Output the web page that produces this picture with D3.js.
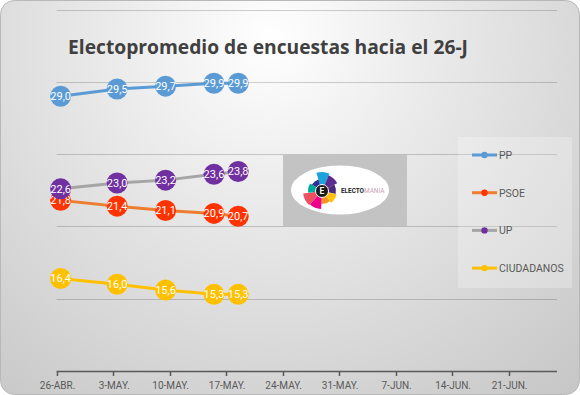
<!DOCTYPE html>
<html>
<head>
<meta charset="utf-8">
<script src="https://cdn.jsdelivr.net/npm/d3@7"></script>
<style>
  html, body { margin: 0; padding: 0; background: #fff; }
  svg { display: block; }
</style>
</head>
<body>
<div id="chart"></div>
<script>
// Fechas de los sondeos (promedio semanal)
const dates = ['2016-04-26', '2016-05-03', '2016-05-09', '2016-05-15', '2016-05-18'];
const parties = ['PP', 'PSOE', 'UP', 'CIUDADANOS'];
const pp = [29.0, 29.5, 29.7, 29.9, 29.9];
const psoe = [21.8, 21.4, 21.1, 20.9, 20.7];
const up = [22.6, 23.0, 23.2, 23.6, 23.8];
const cs = [16.4, 16.0, 15.6, 15.3, 15.3];
const tickDates = ['2016-04-26', '2016-05-03', '2016-05-10', '2016-05-17', '2016-05-24',
    '2016-05-31', '2016-06-07', '2016-06-14', '2016-06-21'];
const months = ['ENE', 'FEB', 'MAR', 'ABR', 'MAY', 'JUN', 'JUL', 'AGO', 'SEP', 'OCT', 'NOV', 'DIC'];
const yTicks = [10, 15, 20, 25, 30, 35];

const width = 580, height = 395;
const parse = d3.timeParse('%Y-%m-%d');

const series = [
    {name: 'PP', values: pp, line: '#5b9bd5', marker: '#5b9bd5'},
    {name: 'PSOE', values: psoe, line: '#ed7d31', marker: '#ff3300'},
    {name: 'UP', values: up, line: '#a5a5a5', marker: '#7030a0'},
    {name: 'CIUDADANOS', values: cs, line: '#ffc000', marker: '#ffc000'},
];

const svg = d3.select('#chart')
    .append('svg')
    .attr('width', width)
    .attr('height', height);

// fondo degradado
const defs = svg.append('defs');
const grad = defs.append('radialGradient')
    .attr('id', 'bg')
    .attr('gradientUnits', 'userSpaceOnUse')
    .attr('cx', 270).attr('cy', 40).attr('r', 520);
grad.append('stop').attr('offset', '0%').attr('stop-color', '#ffffff');
grad.append('stop').attr('offset', '30%').attr('stop-color', '#ebebeb');
grad.append('stop').attr('offset', '100%').attr('stop-color', '#c0c0c0');

svg.append('rect')
    .attr('x', 0.5).attr('y', 0.5)
    .attr('width', width - 1).attr('height', height - 1)
    .attr('rx', 14).attr('ry', 14)
    .attr('fill', 'url(#bg)')
    .attr('stroke', '#b8b8b8');

const x = d3.scaleTime()
    .domain([parse('2016-04-26'), parse('2016-06-27')])
    .range([56.6, 557]);
const y = d3.scaleLinear()
    .domain([10, 35])
    .range([371, 9.5]);
// posición "entre marcas": cada día ocupa una ranura
const half = (x(parse('2016-04-27')) - x(parse('2016-04-26'))) / 2;

// rejilla
svg.append('g')
    .selectAll('line')
    .data(yTicks.slice(1))
    .join('line')
    .attr('x1', x.range()[0])
    .attr('x2', x.range()[1])
    .attr('y1', d => Math.round(y(d)) + 0.5)
    .attr('y2', d => Math.round(y(d)) + 0.5)
    .attr('stroke', '#000')
    .attr('stroke-opacity', 0.18);

// logo electomania
const logo = svg.append('g');
logo.append('rect')
    .attr('x', 283).attr('y', Math.round(y(25)) + 1)
    .attr('width', 124).attr('height', Math.round(y(20)) - Math.round(y(25)) - 1)
    .attr('fill', '#c3c3c3');
logo.append('ellipse')
    .attr('cx', 340).attr('cy', 190)
    .attr('rx', 49).attr('ry', 24.5)
    .attr('fill', '#fff');
const petals = [
    {c: '#1aa3dc', r: 19}, {c: '#5c2d91', r: 17}, {c: '#4a2a7a', r: 14},
    {c: '#ffc20e', r: 15}, {c: '#f7941d', r: 13}, {c: '#ec008c', r: 18},
    {c: '#ef4f5f', r: 19}, {c: '#00a99d', r: 14}, {c: '#2e3192', r: 12},
];
const arc = d3.arc().innerRadius(5);
const step = Math.PI * 2 / petals.length;
logo.append('g')
    .attr('transform', 'translate(322,191)')
    .selectAll('path')
    .data(petals)
    .join('path')
    .attr('d', (d, i) => arc({outerRadius: d.r, startAngle: -0.3 + i * step, endAngle: -0.3 + (i + 1) * step}))
    .attr('fill', d => d.c);
logo.append('circle')
    .attr('cx', 322).attr('cy', 191).attr('r', 6.5)
    .attr('fill', '#1a1a1a').attr('stroke', '#fff').attr('stroke-width', 1);
logo.append('text')
    .attr('x', 322).attr('y', 194)
    .attr('text-anchor', 'middle')
    .attr('font-family', 'Roboto, sans-serif')
    .attr('font-weight', 'bold')
    .attr('font-size', 8.5)
    .attr('fill', '#fff')
    .text('E');
const lt = logo.append('text')
    .attr('x', 341).attr('y', 193)
    .attr('font-family', 'Roboto, sans-serif')
    .attr('font-size', 6.4);
lt.append('tspan').attr('font-weight', 'bold').attr('fill', '#222').text('ELECTO');
lt.append('tspan').attr('fill', '#c9a3b3').text('MANIA');

// eje X
const xAxis = svg.append('g')
    .attr('transform', `translate(0,${Math.round(y(10)) + 0.5})`);
xAxis.append('line')
    .attr('x1', x.range()[0]).attr('x2', x.range()[1])
    .attr('stroke', '#595959').attr('stroke-width', 1.5);
xAxis.selectAll('.tick')
    .data(tickDates.map(parse))
    .join('line')
    .attr('x1', d => Math.round(x(d)) + 0.5)
    .attr('x2', d => Math.round(x(d)) + 0.5)
    .attr('y1', 0).attr('y2', 4.5)
    .attr('stroke', '#595959').attr('stroke-width', 1.5);
xAxis.selectAll('text')
    .data(tickDates.map(parse))
    .join('text')
    .attr('x', d => x(d) + 1)
    .attr('y', 17)
    .attr('text-anchor', 'middle')
    .attr('font-family', 'Roboto, sans-serif')
    .attr('font-size', 10)
    .attr('fill', '#595959')
    .text(d => `${d.getDate()}-${months[d.getMonth()]}.`);

// series
const line = d3.line()
    .x((d, i) => x(parse(dates[i])) + half)
    .y(d => y(d));

const gSeries = svg.append('g');
series.forEach(s => {
    const g = gSeries.append('g');
    g.append('path')
        .attr('d', line(s.values))
        .attr('fill', 'none')
        .attr('stroke', s.line)
        .attr('stroke-width', 3);
});
series.forEach(s => {
    const g = gSeries.append('g');
    g.selectAll('circle')
        .data(s.values)
        .join('circle')
        .attr('cx', (d, i) => x(parse(dates[i])) + half)
        .attr('cy', d => y(d))
        .attr('r', 10.5)
        .attr('fill', s.marker);
    g.selectAll('text')
        .data(s.values)
        .join('text')
        .attr('x', (d, i) => x(parse(dates[i])) + half)
        .attr('y', d => y(d) + 4)
        .attr('text-anchor', 'middle')
        .attr('font-family', 'Roboto, sans-serif')
        .attr('font-size', 11)
        .attr('fill', '#fff')
        .text(d => d3.format('.1f')(d).replace('.', ','));
});

// leyenda
const legend = svg.append('g');
legend.append('rect')
    .attr('x', 458).attr('y', 137)
    .attr('width', 114).attr('height', 151)
    .attr('fill', '#fff').attr('fill-opacity', 0.25);
const items = legend.selectAll('g')
    .data(series)
    .join('g')
    .attr('transform', (d, i) => `translate(0,${155 + i * 37.7})`);
items.append('line')
    .attr('x1', 472).attr('x2', 497)
    .attr('stroke', d => d.line).attr('stroke-width', 3);
items.append('circle')
    .attr('cx', 484.5).attr('r', 3.2)
    .attr('fill', d => d.marker);
items.append('text')
    .attr('x', 499).attr('y', 3.8)
    .attr('font-family', 'Roboto, sans-serif')
    .attr('font-size', 10.5)
    .attr('fill', '#595959')
    .text(d => d.name);

// título
svg.append('text')
    .attr('x', 68).attr('y', 54)
    .attr('font-family', '"Open Sans", sans-serif')
    .attr('font-weight', 'bold')
    .attr('font-size', 19)
    .attr('fill', '#404040')
    .attr('textLength', 400)
    .attr('lengthAdjust', 'spacingAndGlyphs')
    .text('Electopromedio de encuestas hacia el 26-J');
</script>
</body>
</html>
